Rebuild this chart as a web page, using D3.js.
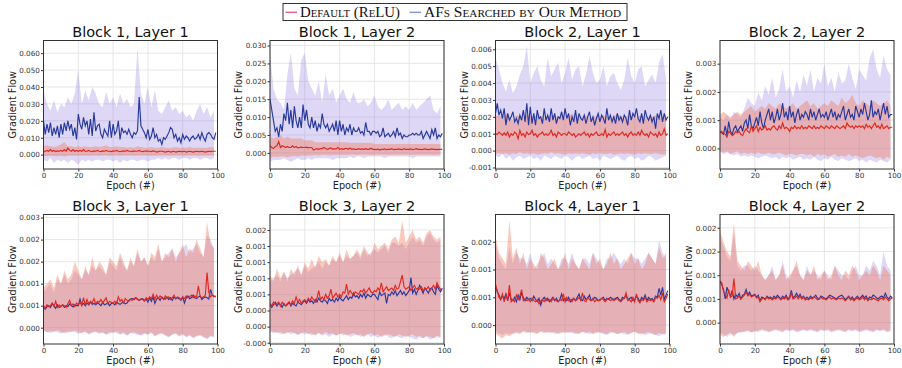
<!DOCTYPE html>
<html>
<head>
<meta charset="utf-8">
<script src="https://cdn.jsdelivr.net/npm/d3@7"></script>
<style>
  body { margin: 0; background: #fff; }
</style>
</head>
<body>
<script>
// ---- data (values per panel, stored in UNITS[i], bands every 2 epochs) ----
const X_TICKS = [0, 20, 40, 60, 80, 100];
const TITLES = ["Block 1, Layer 1", "Block 1, Layer 2", "Block 2, Layer 1", "Block 2, Layer 2",
                "Block 3, Layer 1", "Block 3, Layer 2", "Block 4, Layer 1", "Block 4, Layer 2"];
const UNITS = [1e-3, 1e-3, 1e-4, 1e-4, 1e-4, 1e-4, 1e-4, 1e-4];
const Y_LIMITS = [[-0.0085, 0.0675], [-0.0045, 0.0314], [-0.00109, 0.00652], [-0.00073, 0.00382],
                  [-0.00037, 0.00257], [-0.00027, 0.00174], [-0.00034, 0.00199], [-0.00045, 0.00228]];
const Y_TICKS = [
  [0, 0.01, 0.02, 0.03, 0.04, 0.05, 0.06],
  [0, 0.005, 0.01, 0.015, 0.02, 0.025, 0.03],
  [-0.001, 0, 0.001, 0.002, 0.003, 0.004, 0.005, 0.006],
  [0, 0.001, 0.002, 0.003],
  [0, 0.0005, 0.001, 0.0015, 0.002, 0.0025],
  [-0.00025, 0, 0.00025, 0.0005, 0.00075, 0.001, 0.00125, 0.0015],
  [0, 0.0005, 0.001, 0.0015],
  [0, 0.0005, 0.001, 0.0015, 0.002]
];

// Block 1, Layer 1 (x1e-3)
const b1l1_af = [20,12,18,13,19,11,16,12,17,10, 18,12,19,14,20,15,18,11,16,9, 24,18,15,22,17,20,12,21,11,25,
  14,17,18,12,10,15,13,11,20,10, 18,12,14,20,9,16,13,14,12,15, 12,10,13,12,14,34,17,15,13,10,
  15,9,11,16,10,12,8,9,6,10, 9,11,13,16,15,10,12,8,10,7, 12,9,11,10,8,10,11,9,10,12, 9,13,10,8,12,13,12,10,9,13];
const b1l1_relu = [1.5,2,2.5,2,3,2,2.5,1.8,2.2,2, 2.5,2,3,2,4,2.5,2,3,2,2.5, 2,2.5,2,3,2,2,2.5,2,1.8,2.2,
  2,2.5,2,1.8,2.2,2,2.5,2,2,1.8, 2.2,2,2.5,2,1.8,2,2.2,2,2.5,2, 2,1.8,2.2,2,2,2.5,2,1.8,2,2.2,
  2,2,1.8,2.2,2,1.5,1.8,2,2,1.8, 1.5,1.8,2,1.5,1.8,2,1.5,1.8,2,1.8, 1.8,2,1.5,1.8,2,1.8,1.5,1.8,2,1.8, 1.8,2,1.8,1.5,1.8,2,1.8,2,2,2];
const b1l1_af_hi = [38,30,26,32,25,30,28,34,30,36, 50,30,38,32,40,36,30,28,37,30, 34,28,36,30,33,28,30,63,36,30,
  40,28,38,26,24,28,32,26,28,24, 26,22,24,20,26,30,24,28,22,26];
const b1l1_af_lo = [-3,-4,-2,-5,-3,-4,-3,-5,-3,-4, -6,-3,-4,-3,-4,-3,-3,-4,-3,-3, -4,-3,-5,-3,-4,-3,-3,-4,-3,-3,
  -4,-3,-3,-2,-3,-2,-3,-2,-2,-3, -2,-2,-3,-2,-2,-3,-2,-2,-3,-2];
const b1l1_relu_hi = [5,5.5,5,4.5,5,6,7.5,5,5,4.5, 5,4.5,5,4.5,4.5,5,4.5,5,5.5,4.5, 4.5,5,4.5,4.5,4,4.5,4,5,4.5,4,
  4,4.5,4,4,4.5,4,4,4,4.5,4, 4,4,4.5,4,4,4,4,4,4.5,4];
const b1l1_relu_lo = [-1,-0.8,-0.6,-0.8,-1,-0.6,-1.2,-0.6,-0.5,-0.6, -0.5,-0.6,-0.5,-0.6,-0.5,-0.5,-0.6,-0.5,-0.5,-0.6,
  -0.5,-0.5,-0.6,-0.5,-0.5,-0.5,-0.6,-0.5,-0.5,-0.5, -0.5,-0.6,-0.5,-0.5,-0.5,-0.5,-0.5,-0.6,-0.5,-0.5,
  -0.5,-0.5,-0.5,-0.5,-0.6,-0.5,-0.5,-0.5,-0.5,-0.5];

// Block 1, Layer 2 (x1e-3)
const b1l2_af = [15,12,9,6,7,4.5,8,6,11,9, 14,8,12,7,13,9,7,10,7,13.5, 9,12,8,7,10,7,9,6,8,7,
  11,8,7,8,6,7,8,6,9,5, 9,6,8,5,7,6,8,5,7,6, 6,7,5.5,6,5,8.5,6,6,5,6,
  6,5.5,6,4.5,5,7,4.5,5,5.5,4.5, 5,6,4.5,7,5,5.5,4,5,4.5,4.5, 5,5,5.5,5,5.5,5,5,6,4,5, 6,5,4,6.5,5,7,4,5,4.5,5.5];
const b1l2_relu = [2,1.5,1.2,1.8,2,3.2,1.5,2,1.8,1.5, 1.8,1.5,1.5,2,1.5,1.8,1.4,1.5,1.6,1.5, 1.5,1.6,1.4,1.5,1.5,0.8,1,1.2,1,1.2,
  1.2,1.5,1.2,1,1.2,1.4,1,1.2,1.1,1.5, 1,1.2,1,1.2,1.3,1,1.4,1,1.1,1, 1,1.2,1,1.1,1,1.2,1,1,1.3,1,
  1,0.9,1.1,0.8,1,1,1.1,0.9,1,1, 1.2,0.9,1,1,1.1,1,0.9,1.2,1,1, 1,1.1,0.9,1,1.2,1,1,0.9,1,1.1, 1,0.9,1,1.1,1,1,0.9,1,1,1];
const b1l2_af_hi = [28,18,15,14,12,22,28,18,16,26, 28,20,18,16,20,14,22,16,18,14, 16,18,15,14,17,14,14,15,13,14,
  16,13,12,13,15,12,13,14,12,13, 12,14,12,13,14,15,16,12,11,13];
const b1l2_af_lo = [-2.5,-2,-2,-2,-1.5,-2,-2.5,-2,-1.5,-2, -2,-1.5,-2,-1.5,-1.5,-1.5,-1.5,-1.5,-2,-1.5,
  -1.5,-1.5,-1.5,-1,-1.5,-1,-1,-1.5,-1,-1, -1,-1,-1,-1.5,-1,-1,-1,-1,-1,-1, -1,-1.5,-1,-1,-1,-1,-1,-1,-1,-1];
const b1l2_relu_hi = [4.5,4,4.5,5,4,4.5,4,4,4,4, 3.5,3.5,3.5,3,3,3,3,3,3,3, 3,3,3,2.8,2.8,2.8,2.8,2.8,2.8,2.8,
  2.5,2.5,2.5,2.5,2.5,2.5,2.5,2.5,2.5,2.5, 2.5,2.5,2.5,2.5,2.5,2.5,2.5,2.5,2.5,2.5];
const b1l2_relu_lo = [-1.5,-1,-1.2,-1,-1,-1.2,-1,-0.9,-1,-0.8, -0.8,-0.8,-0.7,-0.6,-0.7,-0.6,-0.6,-0.7,-0.6,-0.6,
  -0.6,-0.5,-0.6,-0.5,-0.5,-0.6,-0.5,-0.5,-0.5,-0.6, -0.5,-0.5,-0.5,-0.5,-0.6,-0.5,-0.5,-0.5,-0.5,-0.5,
  -0.5,-0.6,-0.5,-0.5,-0.5,-0.5,-0.5,-0.6,-0.5,-0.5];

// Block 2, Layer 1 (x1e-4)
const b2l1_af = [22,28,21,24,19,25,15,22,18,20, 23,17,19,16,21,18,24,17,28,15, 26,16,22,15,24,19,20,16,25,18,
  21,17,25,18,22,16,20,19,23,18, 25,19,22,15,20,17,24,16,22,19, 18,21,16,20,23,17,20,15,19,22,
  17,21,19,16,25,18,21,17,20,16, 22,18,20,17,21,19,15,24,18,22, 20,25,19,17,22,16,24,20,18,21, 17,20,13,22,19,24,17,22,18,20];
const b2l1_relu = [10,9.5,11,10,9,10.5,9,11,8,10, 9,11,10,7,12,9,10,8,11,9.5, 10,12,9,10,8,9.5,10,11,9,10,
  9,10,12,9,10,8,11,10,9,10, 10,9,11,10,9,10,8,9,10,9, 10,11,9,10,8,10,9,10,11,9,
  9,10,9,12.5,8,10,9,10,11,9, 10,9,10,11,9,10,8,10,11,9, 10,9,11,9,12,10,9,10,8,11, 10,9,10,8,11,9,10,13,9,10];
const b2l1_af_hi = [55,48,40,35,42,34,38,45,50,62, 40,46,50,42,38,55,44,48,52,40, 46,55,42,48,50,38,45,56,46,40,
  42,50,38,44,46,40,36,42,55,44, 40,48,50,38,42,45,40,52,57,43];
const b2l1_af_lo = [-3,-4,-2,-5,-3,-6,-4,-3,-5,-4, -3,-5,-4,-6,-3,-4,-5,-3,-4,-5, -3,-4,-6,-4,-3,-5,-4,-3,-5,-4,
  -6,-3,-4,-5,-4,-3,-5,-6,-4,-3, -5,-4,-6,-5,-3,-4,-6,-5,-4,-3];
const b2l1_relu_hi = [20,21,19,22,20,18,21,20,19,21, 20,19,22,20,19,21,20,19,20,21, 19,20,22,20,19,20,21,19,20,20,
  19,21,20,19,20,22,20,19,21,20, 19,20,21,20,19,20,21,19,20,20];
const b2l1_relu_lo = [-2,-1.5,-2,-1.5,-2.5,-1.5,-2,-1,-2,-1.5, -2,-1.5,-2.5,-2,-1.5,-2,-1,-2,-1.5,-2,
  -2.5,-1.5,-2,-1.5,-2,-1.5,-2,-2.5,-1.5,-2, -1.5,-2,-2,-1.5,-2.5,-2,-1.5,-2,-1.5,-2, -2.5,-1.5,-2,-1.5,-2,-2,-1.5,-2,-2.5,-2];

// Block 2, Layer 2 (x1e-4)
const b2l2_af = [6,5.5,5,8,4.5,9.5,6,5,7,8, 6,7,8,6,9,10,7,12,8,7, 9,11,8,13,9,7,10,12,14,10,
  13,9,11,14,10,12,16,11,13,10, 15,11,13,9,12,14,10,12,11,13, 12,10,14,11,13,10,12,14,11,12,
  11,13,10,12,14,11,13,10,12,11, 13,15,10,12,14,11,12,10,15,13, 11,14,12,16,13,10,12,17,11,13, 12,14,10,13,16,12,15,11,12,12];
const b2l2_relu = [5.5,6,5.5,5,4,6,5.5,4.5,5,6, 5.5,6,5,4.5,6,7,6,5.5,8,6, 7,8,6,7.5,6.5,7,8,6.5,7,6.5,
  7.5,8,7,6.5,8,7,9,7,7.5,7, 6,7.5,7,8,7,7.5,7,8,7,7.5, 7,8,7.5,7,8,7,7.5,7,8,7.5,
  7,8,7.5,7,8,7.5,7,8,7.5,7, 7.5,8,7,9,8,7.5,8,7,8,7.5, 8,7.5,8,7,8.5,7.5,8,7,8,9, 7.5,8,7,8.5,7,7.5,8,7,7.5,7.5];
const b2l2_af_hi = [11,10,12,10,13,12,11,14,18,16, 15,20,17,22,19,25,18,21,28,20, 22,18,24,20,26,22,28,20,25,23,
  30,22,25,20,27,23,24,30,25,21, 28,26,24,32,35,28,25,33,28,26];
const b2l2_af_lo = [-1,-2,-1.5,-2,-2.5,-2,-3,-2.5,-3,-2.5, -3,-3.5,-3,-2.5,-3,-3.5,-3,-4,-3,-3.5,
  -3,-4,-3.5,-3,-4,-3.5,-4,-3,-4,-4.5, -3.5,-4,-3,-4,-4.5,-3.5,-4,-4.5,-4,-3.5, -4.5,-4,-5,-4,-4.5,-5,-4,-4.5,-5,-4];
const b2l2_relu_hi = [12,13,12,11,12,13,12,13,14,15, 13,14,15,14,16,15,14,16,15,14, 15,16,14,15,16,17,15,16,14,15,
  16,15,17,16,15,18,16,17,19,16, 15,17,16,15,17,16,15,16,17,15];
const b2l2_relu_lo = [-1,-1.5,-1,-2,-1.5,-1,-2,-1.5,-2,-1.5, -2,-1.5,-2,-2,-1.5,-2,-2,-1.5,-2,-2.5,
  -2,-2,-2.5,-2,-2,-2.5,-2,-3,-2,-2.5, -2,-3,-2.5,-2,-3,-2.5,-3,-2,-3,-2.5, -3,-3.5,-3,-2.5,-3,-3.5,-3,-4,-3,-3.5];

// Block 3, Layer 1 (x1e-4)
const b3l1_af = [4.5,4.2,4.8,5,4.6,5.5,5,4.4,5.2,4.6, 4.8,5.2,4.6,5,4.8,5.4,5,4.7,5.2,5, 5,6.5,5.2,5.5,5,5.6,5.2,5.8,5.3,5.5,
  5.2,5.6,5.4,5,5.8,5.2,5.4,5.6,5,5.5, 5.6,5.2,5.8,5.5,5.3,5.6,5.8,5.4,5.6,6.2, 6.5,6.6,6.4,6.8,6.5,6.2,6.4,6.6,6.2,6.5,
  5.8,6.8,6,7,5.5,6.5,6.8,6.2,7,6.6, 6.5,7,6.4,6.8,6.2,7,6.5,6.8,6.6,6.2, 7,5.6,6.8,7.2,6.6,6.8,7.4,6.8,6.6,7, 7.2,6.4,6.8,7,6.8,6.5,8.7,7.4,7.2,7];
const b3l1_relu = [5,4.4,5.2,4.8,5,5.6,4.8,6,4.6,5.2, 4.8,5.2,5,4.6,5.5,6.2,5,5.4,4.8,5.6, 5.2,5.8,5,6.8,5.2,6.4,5.4,6,5.6,6.6,
  5.4,6,5.8,6.4,5.6,6.2,6.8,5.4,6,5.8, 5.6,6,5.4,7,6,6.4,5.6,6.6,6.2,6, 6.4,6.2,6.6,6.8,6.4,6.2,6.6,6.4,6,6.8,
  6.4,7,6.6,7.6,6.4,7.4,6.6,7.2,6.8,6.4, 7.2,6.6,7,6.4,6.8,7.4,6.6,7,6.8,6.4, 7,6.6,7.2,6.8,7,7.4,6.8,7.2,7,9.5, 7.2,6.8,7,7.4,12.5,8,7,7.4,7,7.2];
const b3l1_af_hi = [8,9,10,8,11,10,12,10,11,13, 12,11,13,12,14,13,14,13,12,15, 14,13,16,14,13,15,14,17,15,16,
  14,16,15,18,15,16,17,18,16,17, 18,19,17,18,19,17,16,21,20,18];
const b3l1_af_lo = [-0.8,-1,-1.2,-0.8,-1,-1.4,-1,-1.2,-0.8,-1, -1.4,-1.2,-1,-1.6,-1.2,-1,-1.4,-1.2,-1.6,-1.4,
  -1,-1.2,-1.6,-1.4,-1.8,-1.2,-1.4,-1.6,-1.8,-1.4, -1.6,-1.2,-2,-1.6,-1.4,-1.8,-2.2,-1.6,-1.4,-2, -1.6,-2.2,-1.8,-2.4,-2,-1.8,-2.2,-2.6,-2,-2.2];
const b3l1_relu_hi = [9,10,11,9,12,10,13,11,12,15, 13,11,14,12,16,13,15,14,12,16, 15,14,17,15,13,16,14,18,15,16,
  14,17,16,19,15,17,16,18,15,17, 19,16,18,17,20,18,16,24,19,18];
const b3l1_relu_lo = [-0.5,-1,-0.8,-1,-0.5,-1,-1.2,-0.8,-1,-0.6, -1,-1.2,-0.8,-1.4,-1,-0.8,-1.2,-1,-1.5,-1,
  -1.2,-0.8,-1.4,-1,-1.6,-1.2,-1,-1.4,-1.6,-1.2, -1.5,-1,-1.8,-1.4,-1.2,-1.6,-2,-1.5,-1.2,-1.8, -1.4,-2,-1.6,-2.2,-1.8,-1.6,-2,-2.4,-1.8,-2];

// Block 3, Layer 2 (x1e-4)
const b3l2_af = [3.5,3,3.4,3.8,3.2,3.6,3.4,3,3.6,3.2, 3.4,3.8,3.2,3.6,3.4,3.2,3.8,3.6,3.4,3.8, 4,3.6,4.2,3.8,4,3.6,4.2,3.8,4.4,4,
  3.8,4.2,4,3.6,4.4,4,4.2,3.8,4.4,4, 4.6,4.2,4,4.4,4.8,4.2,4.6,4.4,5.2,4.6, 4.8,4.4,5,4.6,5.2,4.4,5,4.8,4.6,5,
  5,4.6,4.2,5.4,4.8,5,5.2,3.6,5,4.8, 5.4,5,5.6,4.8,5.2,5.6,5,5.4,4.8,5.2, 5.6,7.6,5.2,5.8,5,5.6,6.4,5.8,5.2,6, 5.6,5.2,5.8,6,5.4,5,6.4,5.8,5.4,6];
const b3l2_relu = [3.6,3.2,3.8,3.4,3.6,3.8,3.2,3.8,3.4,3.2, 3.6,3.8,3.4,4,3.6,4.6,3.8,4.2,3.6,4, 4.2,3.8,4.4,4,4.6,4.2,3.8,4.4,5.6,4.2,
  4.6,4.2,5,4.4,4.8,5.8,4.4,4.8,5.2,4.6, 5,4.6,5.4,5.2,6.6,5,5.6,5.2,4.8,5.4, 5.2,5,5.6,5.4,5.8,5.2,5.6,6,5.4,5.2,
  5.6,5.4,6,5.6,6.8,5.4,5.8,6.2,5.6,5.8, 6,5.6,6.4,5.8,6,7,8,6.2,5.8,6, 6.2,5.6,6,6.4,5.8,6,5.8,6.2,5.6,6, 5.8,6.2,5.6,6,6.4,5.8,6.8,6.2,5.8,5.6];
const b3l2_af_hi = [7,7.5,8,7,8.5,7.5,8,8.5,9,8, 9.5,8.5,9,9.5,10,9,10,9.5,10.5,10, 11,10,11,10.5,11,11.5,10.5,12,11,11.5,
  12,11.5,12,12.5,11.5,13,13,12.5,13,12, 13,14,13,13.5,12.5,14,14.5,13.5,13,13.5];
const b3l2_af_lo = [-0.8,-1,-0.8,-1.2,-1,-0.8,-1.2,-1,-1.4,-1, -1.2,-1,-1.4,-1.2,-1,-1.4,-1.2,-1.6,-1.2,-1.4,
  -1,-1.4,-1.2,-1.6,-1.4,-1.2,-1.6,-1.4,-1.2,-1.6, -1.4,-1.8,-1.4,-1.2,-1.6,-1.8,-1.4,-1.6,-1.8,-1.4, -1.6,-1.8,-2,-1.6,-1.8,-1.6,-2,-1.8,-1.6,-1.8];
const b3l2_relu_hi = [8,7,9,7.5,8.5,7,9,8,9.5,8, 10,9,10.5,9,11,10,10.5,9.5,11,10, 11.5,10,12,10.5,11,12,11,12.5,11.5,11,
  13,12,12.5,13,12,13.5,14,13,16.5,13, 14,15,13.5,14,13,14.5,15,14,13.5,14];
const b3l2_relu_lo = [-0.6,-0.8,-1,-0.8,-1.2,-1,-0.8,-1,-1.2,-1, -0.8,-1.2,-1,-1.4,-1,-1.2,-0.8,-1.2,-1,-1.4,
  -1.2,-1,-1.4,-1.2,-1,-1.4,-1.2,-1.6,-1.2,-1, -1.4,-1.2,-1.6,-1.4,-1.2,-1.4,-1.6,-1.2,-1.4,-1.6, -1.4,-1.2,-1.6,-1.4,-1.8,-1.4,-1.6,-1.8,-1.4,-1.6];

// Block 4, Layer 1 (x1e-4)
const b4l1_af = [6.8,6,5.4,4.6,5.2,4.8,5.6,4.4,5.8,4.6, 4.4,5,4.2,5.4,4.6,5.8,4.8,4.4,5,4.6, 4.8,4.4,5.2,4.6,4.2,4.8,3.6,4.6,5,4.4,
  4.8,4.2,4.6,5,4.4,4.8,4.2,4.6,5.6,4.4, 4.8,4.4,5,4.2,4.6,4.8,4.4,5,5.6,4.6, 4.4,5.2,4.6,4.8,5.4,4.4,4.6,5,4.8,4.4,
  4.6,4.8,5,4.4,4.8,4.6,5,4.8,4.6,4.8, 5,4.6,4.4,5,4.8,5.4,4.6,4.8,5,4.4, 4.6,5.2,4.8,4.2,5,4.6,5.4,4.4,5,4.6, 4.8,4.4,5.2,5,6.6,5.4,6.8,4.6,5.4,6.2];
const b4l1_relu = [7.4,6.2,5,4.6,5.6,4.2,5.4,4.4,7.2,4.2, 4.6,4.2,5.4,4.6,5.2,6.4,4.4,4.8,4.4,4.6, 4.2,4.8,4.4,4.2,4.6,3.8,4.4,4.6,4.2,4.8,
  4.4,4.6,4.2,4.8,4.6,4.4,4.2,4.6,4.4,5.6, 4.2,5,4.4,4.6,4.2,4.8,4.4,4.6,5,4.4, 5.8,4.4,4.2,5,4.6,4.4,4.8,4.2,4.6,4.4,
  4.4,4.8,4.6,4.2,4.6,4.8,4.4,4.6,4.4,4.6, 4.8,4.4,4.2,4.6,4.8,5.8,4.4,4.6,4.2,5, 4.2,5.6,4.4,4,4.6,4.4,5,4.2,4.6,4.4, 4.6,4.2,5,4.8,5.4,4.6,5.8,4.2,4.8,5.6];
const b4l1_af_hi = [15,12,11,10,14,11,13,12,12,11, 13,10,11,12,13,11,12,11,10,12, 12,11,13,11,10,12,12,11,13,12,
  11,10,12,12,13,12,11,12,11,13, 12,12,11,12,13,12,11,15.3,13,12];
const b4l1_af_lo = [-1,-1.5,-1.8,-1.4,-1.6,-1.4,-1.2,-1.4,-1,-1.2, -1.4,-1.2,-1.4,-1,-1.2,-1.4,-1.2,-1.6,-1.4,-1.2,
  -1.4,-1.2,-1.4,-1.6,-1.4,-1.2,-1.4,-1.6,-1.4,-1.2, -1.4,-1.6,-1.8,-1.4,-1.2,-1.6,-1.4,-1.6,-1.8,-1.4, -1.2,-1.6,-1.4,-1.8,-1.6,-1.4,-1.8,-2,-1.6,-1.8];
const b4l1_relu_hi = [16,13,12,11,18.9,12,14,11,13,10, 12,11,10,13,12,10,11,12,10,11, 13,10,12,11,10,12,11,10,13,11,
  12,10,11,13,11,12,10,11,12,13, 11,12,10,11,13,12,11,14,12,13];
const b4l1_relu_lo = [-1.5,-2,-2.4,-1.8,-2,-1.6,-1.4,-1.6,-1.2,-1.4, -1.2,-1.4,-1.6,-1.2,-1.4,-1.2,-1.4,-1.2,-1.6,-1.4,
  -1.2,-1.4,-1.2,-1.4,-1.6,-1.2,-1.4,-1.2,-1.6,-1.4, -1.2,-1.4,-1.6,-1.2,-1.4,-1.6,-1.4,-1.2,-1.6,-1.4, -1.2,-1.4,-1.6,-1.4,-1.2,-1.6,-1.8,-1.4,-1.6,-1.4];

// Block 4, Layer 2 (x1e-4)
const b4l2_af = [8.6,8,7,5,7.5,6.5,5.5,6.8,5,6, 5.4,6.2,5,5.8,6,7,5.8,6.4,5.6,5.8, 6,5.4,5.8,4.6,5.4,5.2,5,5.6,5.2,5.4,
  5,5.6,5.2,5.8,5.4,5,5.6,5.2,5.8,5, 5.4,6.8,5.2,5.6,6.2,5.4,6,5.2,5.6,5, 5.4,5,5.6,5.2,5.4,5.8,5.2,5,5.6,5.4,
  5.2,5,5.4,5.8,5.6,5.4,5.2,5,5.4,5.6, 5.8,5.4,4.8,5.2,5.6,5,5.4,4.8,5.2,5.6, 5,5.4,5.8,5.2,5.6,4.8,5.4,5.2,5.8,5.6, 5.2,5,5.4,5.6,5.2,6.2,5.4,5,5.6,5.2];
const b4l2_relu = [8.8,8.4,6.6,6,5.2,7,5.4,5.6,9.3,5, 5.2,5.6,5,5.4,5.8,6.4,5.6,6,5.4,5.6, 5.8,5.2,5.4,4.4,5,5.2,4.8,5.4,5,5.2,
  4.8,5.2,5,5.4,5.2,4.8,5.2,5,5.4,4.8, 5,6.2,5,5.2,5.6,5,5.6,5,5.4,4.8, 5,4.8,5.2,5,5.4,5.2,4.8,5,5.4,5,
  5,4.8,5.2,5.4,5,5.2,5,4.8,5.2,5, 5.2,5,4.6,5,5.4,4.8,5,4.6,5,5.2, 4.8,5,5.4,4.8,5.2,4.6,5,4.8,5.2,5, 4.8,4.6,5,5.2,4.8,5.4,5,4.6,5,5.2];
const b4l2_af_hi = [18,16,14,13,19,12,11,12,12,11, 12,11,10,9,10,12,9,10,13,10, 9,11,12,10,9,12,10,11,10,9,
  11,10,9,12,11,10,10,9,11,12, 10,10,12,11,13,12,10,15,12,11];
const b4l2_af_lo = [-2,-2.5,-3,-2.4,-2.6,-2.2,-2,-2,-1.8,-2, -1.8,-2,-1.6,-1.8,-2,-1.8,-1.6,-1.8,-2,-1.6,
  -1.8,-1.6,-2,-1.8,-1.6,-1.8,-1.6,-1.8,-2,-1.6, -1.8,-1.6,-2,-1.8,-1.6,-1.8,-2,-1.6,-1.8,-1.6, -2,-1.8,-1.6,-1.8,-2,-1.6,-1.8,-1.6,-2,-1.8];
const b4l2_relu_hi = [19.5,17,15,14,21,13,12,11,13,12, 11,13,10,9,10,11,9,10,12,9, 10,11,13,10,9,11,10,12,9,10,
  11,9,10,12,10,9,11,10,12,11, 9,10,11,10,12,11,9,12,11,10];
const b4l2_relu_lo = [-2.5,-3,-2.5,-2,-3,-2,-2,-1.8,-1.6,-2, -1.8,-1.6,-1.4,-1.6,-1.8,-1.6,-1.4,-1.6,-1.8,-1.4,
  -1.6,-1.4,-1.8,-1.6,-1.4,-1.6,-1.4,-1.6,-1.8,-1.4, -1.6,-1.4,-1.8,-1.6,-1.4,-1.6,-1.8,-1.4,-1.6,-1.4, -1.8,-1.6,-1.4,-1.6,-1.8,-1.4,-1.6,-1.4,-1.8,-1.6];

const LEGEND_LABELS = ["Default (ReLU)", "AFs Searched by Our Method"];

// ---- layout ----
const WIDTH = 902, HEIGHT = 368;
const COL_LEFT = [43.5, 270, 495.5, 720];
const ROW_TOP = [40.5, 214.5];
const PANEL_W = 174;
const PANEL_H = [128.5, 129.5];
const FONT = "DejaVu Sans";

const RED_LINE = "#e2271f", BLUE_LINE = "#27399c";
const RED_FILL = "#f0775a", BLUE_FILL = "#8a6fdc";

const PANELS = [
  [b1l1_relu, b1l1_relu_hi, b1l1_relu_lo, b1l1_af, b1l1_af_hi, b1l1_af_lo],
  [b1l2_relu, b1l2_relu_hi, b1l2_relu_lo, b1l2_af, b1l2_af_hi, b1l2_af_lo],
  [b2l1_relu, b2l1_relu_hi, b2l1_relu_lo, b2l1_af, b2l1_af_hi, b2l1_af_lo],
  [b2l2_relu, b2l2_relu_hi, b2l2_relu_lo, b2l2_af, b2l2_af_hi, b2l2_af_lo],
  [b3l1_relu, b3l1_relu_hi, b3l1_relu_lo, b3l1_af, b3l1_af_hi, b3l1_af_lo],
  [b3l2_relu, b3l2_relu_hi, b3l2_relu_lo, b3l2_af, b3l2_af_hi, b3l2_af_lo],
  [b4l1_relu, b4l1_relu_hi, b4l1_relu_lo, b4l1_af, b4l1_af_hi, b4l1_af_lo],
  [b4l2_relu, b4l2_relu_hi, b4l2_relu_lo, b4l2_af, b4l2_af_hi, b4l2_af_lo]
];

const svg = d3.select("body").append("svg")
    .attr("width", WIDTH)
    .attr("height", HEIGHT)
    .style("font-family", FONT);

PANELS.forEach((arrs, i) => {
  const [relu, reluHi, reluLo, af, afHi, afLo] = arrs;
  const col = i % 4, row = Math.floor(i / 4);
  const H = PANEL_H[row];
  const u = UNITS[i];

  const X = d3.scaleLinear().domain([0, 100]).range([0, PANEL_W]);
  const Y = d3.scaleLinear().domain(Y_LIMITS[i]).range([H, 0]);

  const g = svg.append("g")
      .attr("transform", "translate(" + COL_LEFT[col] + "," + ROW_TOP[row] + ")");

  g.append("clipPath").attr("id", "clip" + i)
    .append("rect").attr("width", PANEL_W).attr("height", H);

  // grid
  g.append("g").selectAll("line").data(X_TICKS).join("line")
      .attr("x1", d => X(d)).attr("x2", d => X(d))
      .attr("y1", 0).attr("y2", H)
      .attr("stroke", "#e4e4e4").attr("stroke-width", 0.9);
  g.append("g").selectAll("line").data(Y_TICKS[i]).join("line")
      .attr("x1", 0).attr("x2", PANEL_W)
      .attr("y1", d => Y(d)).attr("y2", d => Y(d))
      .attr("stroke", "#e4e4e4").attr("stroke-width", 0.9);

  const plot = g.append("g").attr("clip-path", "url(#clip" + i + ")");

  const band = (hi, lo) => hi.map((v, k) => ({e: k * 2, hi: v * u, lo: lo[k] * u}));
  const area = d3.area().x(d => X(d.e)).y0(d => Y(d.lo)).y1(d => Y(d.hi));
  const line = d3.line().x((d, k) => X(k)).y(d => Y(d * u));

  plot.append("path").datum(band(afHi, afLo))
      .attr("d", area).attr("fill", BLUE_FILL).attr("fill-opacity", 0.28);
  plot.append("path").datum(band(reluHi, reluLo))
      .attr("d", area).attr("fill", RED_FILL).attr("fill-opacity", 0.4);

  plot.append("path").datum(af)
      .attr("d", line).attr("fill", "none")
      .attr("stroke", BLUE_LINE).attr("stroke-width", 1.15);
  plot.append("path").datum(relu)
      .attr("d", line).attr("fill", "none")
      .attr("stroke", RED_LINE).attr("stroke-width", 1.15);

  // axes
  const yAxis = g.append("g")
      .call(d3.axisLeft(Y).tickValues(Y_TICKS[i]).tickFormat(d => d.toFixed(3)).tickSize(2.5).tickPadding(1.2));
  const xAxis = g.append("g")
      .attr("transform", "translate(0," + H + ")")
      .call(d3.axisBottom(X).tickValues(X_TICKS).tickSize(2.5).tickPadding(1.2));
  [xAxis, yAxis].forEach(a => {
    a.select(".domain").remove();
    a.attr("font-family", FONT).attr("font-size", 7.2);
    a.selectAll("line").attr("stroke", "#333");
    a.selectAll("text").attr("fill", "#333");
  });

  // frame
  g.append("rect")
      .attr("width", PANEL_W).attr("height", H)
      .attr("fill", "none").attr("stroke", "#333").attr("stroke-width", 1);

  // title and labels
  g.append("text")
      .attr("x", PANEL_W / 2).attr("y", -3.8)
      .attr("text-anchor", "middle")
      .attr("font-size", 14.5).attr("fill", "#111")
      .text(TITLES[i]);
  g.append("text")
      .attr("x", PANEL_W / 2).attr("y", H + 16.7)
      .attr("text-anchor", "middle").attr("dominant-baseline", "central")
      .attr("font-size", 9.7).attr("fill", "#222")
      .text("Epoch (#)");
  g.append("text")
      .attr("transform", "translate(-31.5," + (H / 2) + ") rotate(-90)")
      .attr("text-anchor", "middle").attr("dominant-baseline", "central")
      .attr("font-size", 9.7).attr("fill", "#222")
      .text("Gradient Flow");
});

// legend
const LEG = svg.append("g");
LEG.append("rect")
    .attr("x", 283).attr("y", 3.5).attr("width", 344).attr("height", 17)
    .attr("fill", "#fff").attr("stroke", "#333").attr("stroke-width", 1);
const legItems = [
  {label: LEGEND_LABELS[0], color: "#e4587a", x: 285.5, len: 100},
  {label: LEGEND_LABELS[1], color: "#7d8ed8", x: 409.5, len: 197}
];
legItems.forEach(it => {
  LEG.append("line")
      .attr("x1", it.x).attr("x2", it.x + 11.5)
      .attr("y1", 12.3).attr("y2", 12.3)
      .attr("stroke", it.color).attr("stroke-width", 1.3);
  LEG.append("text")
      .attr("x", it.x + 14.5).attr("y", 16.5)
      .attr("font-family", "Liberation Serif")
      .attr("font-size", 13.8)
      .style("font-variant", "small-caps")
      .attr("textLength", it.len).attr("lengthAdjust", "spacingAndGlyphs")
      .attr("fill", "#111")
      .text(it.label);
});
</script>
</body>
</html>
